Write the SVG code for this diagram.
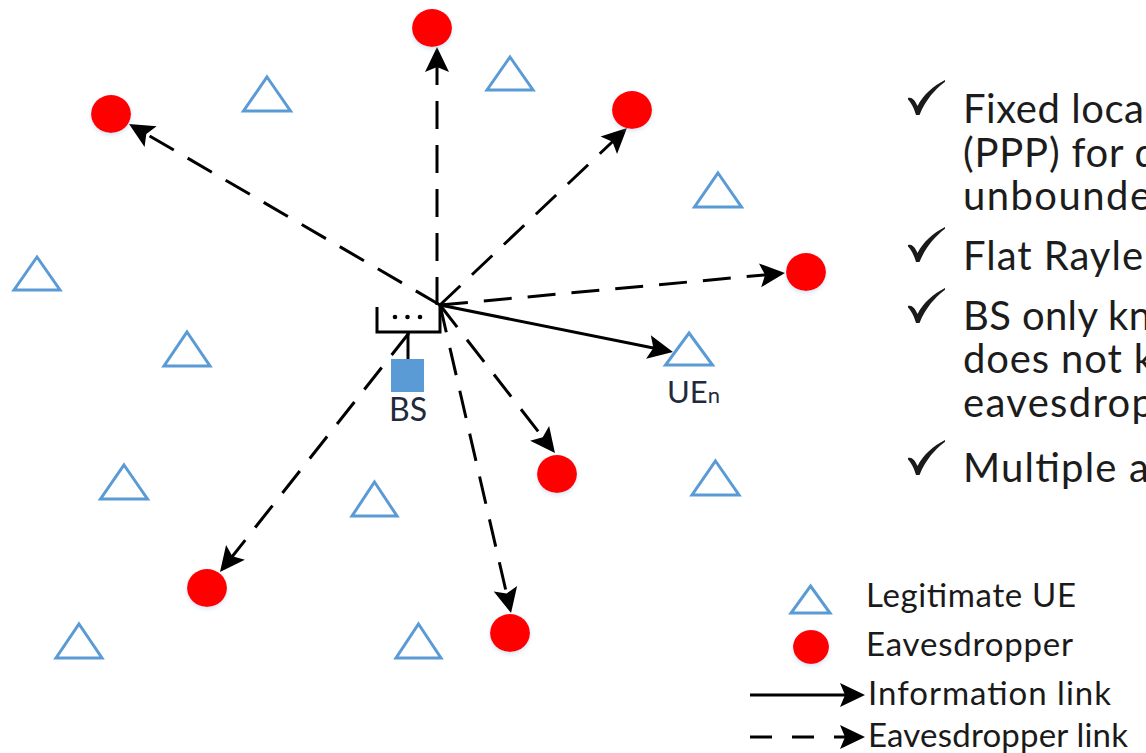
<svg xmlns="http://www.w3.org/2000/svg" width="1146" height="753" viewBox="0 0 1146 753">
  <defs>
    <style>
      .ue { fill: #ffffff; stroke: #5B9BD5; stroke-width: 3; stroke-linejoin: miter; }
      .eve { fill: #FF0000; filter: url(#glow); }
      .link { fill: none; stroke: #000000; stroke-width: 3; }
      .dash { stroke-dasharray: 28 16; }
      .info { marker-end: url(#head); }
      .eavl { marker-end: url(#head); }
      .bullet { font-family: Lato, "Liberation Sans", sans-serif; font-size: 40px; fill: #1c1c1c; }
      .legend { font-family: Lato, "Liberation Sans", sans-serif; font-size: 33px; fill: #1a1a1a; }
      .label { font-family: Lato, "Liberation Sans", sans-serif; fill: #1f2a3a; }
      .tick { fill: #1a1a1a; }
    </style>
    <marker id="head" markerUnits="userSpaceOnUse" viewBox="-22 -14 30 28" refX="0" refY="0" markerWidth="30" markerHeight="28" orient="auto" overflow="visible">
      <path d="M6,0 L-19,-12 L-14,0 L-19,12 Z" fill="#000000"/>
    </marker>
    <filter id="glow" x="-50%" y="-50%" width="200%" height="200%">
      <feDropShadow dx="0" dy="2" stdDeviation="2" flood-color="#9DC3E6" flood-opacity="0.45"/>
    </filter>
    <path id="check" d="M0,18 C3,17 6,19 8,23 L9.5,26 C15,15 25,6 37,0 L37,1.8 C27,9.5 17.5,20 11.5,35 L8,35 C6,28 3,22.5 0,19.5 Z"/>
  </defs>

  <!-- connectors -->
  <g id="connectors">
    <path class="link dash eavl" d="M440,305 L134.2,127"/>
    <path class="link dash eavl" d="M437,305 L437,53"/>
    <path class="link dash eavl" d="M440,305 L622.6,132.1"/>
    <path class="link dash eavl" d="M440,305 L779,273.6"/>
    <path class="link info" d="M440,305 L667.1,350.8"/>
    <path class="link dash eavl" d="M440,305 L551.3,448.3"/>
    <path class="link dash eavl" d="M440,305 L509.7,607.2"/>
    <path class="link dash eavl" d="M409,333 L223.7,567.3"/>
  </g>

  <!-- base station with antenna array -->
  <g id="bs">
    <path d="M377,307 V332 H440 V304" fill="none" stroke="#000" stroke-width="3"/>
    <circle cx="395" cy="317" r="2.3" fill="#000"/>
    <circle cx="407.5" cy="317" r="2.3" fill="#000"/>
    <circle cx="420" cy="317" r="2.3" fill="#000"/>
    <line x1="408" y1="332" x2="408" y2="359" stroke="#000" stroke-width="3"/>
    <rect x="391" y="359" width="33" height="33" fill="#5B9BD5"/>
    <text class="label" x="408" y="421" font-size="32" text-anchor="middle">BS</text>
  </g>

  <!-- legitimate users -->
  <g id="ue1"><path class="ue" d="M267,77 L290.5,111 L243.5,111 Z"/></g>
  <g id="ue2"><path class="ue" d="M510,57 L533,90 L487,90 Z"/></g>
  <g id="ue3"><path class="ue" d="M718,173 L741.5,207 L694.5,207 Z"/></g>
  <g id="ue4"><path class="ue" d="M37,257 L60,290 L14,290 Z"/></g>
  <g id="ue5"><path class="ue" d="M187,332 L210,366 L164,366 Z"/></g>
  <g id="ue-n">
    <path class="ue" d="M689,333 L712.5,365 L665.5,365 Z"/>
    <text class="label" x="667" y="403" font-size="31">UE<tspan font-size="22">n</tspan></text>
  </g>
  <g id="ue6"><path class="ue" d="M124,465 L147.5,499 L100.5,499 Z"/></g>
  <g id="ue7"><path class="ue" d="M374.5,482 L397,516 L352,516 Z"/></g>
  <g id="ue8"><path class="ue" d="M715.5,461 L739,495 L692,495 Z"/></g>
  <g id="ue9"><path class="ue" d="M79,624 L102,658 L56,658 Z"/></g>
  <g id="ue10"><path class="ue" d="M418.5,624 L441,658 L396,658 Z"/></g>

  <!-- eavesdroppers -->
  <g id="eve1"><ellipse class="eve" cx="432" cy="28" rx="20" ry="19"/></g>
  <g id="eve2"><ellipse class="eve" cx="111" cy="114" rx="20" ry="19"/></g>
  <g id="eve3"><ellipse class="eve" cx="632" cy="110" rx="20" ry="19"/></g>
  <g id="eve4"><ellipse class="eve" cx="806" cy="272" rx="20" ry="19"/></g>
  <g id="eve5"><ellipse class="eve" cx="557" cy="474" rx="20" ry="19"/></g>
  <g id="eve6"><ellipse class="eve" cx="207" cy="588" rx="20" ry="19"/></g>
  <g id="eve7"><ellipse class="eve" cx="510" cy="633" rx="20" ry="19"/></g>

  <!-- assumptions list -->
  <g id="assumptions">
    <use href="#check" class="tick" x="908" y="80"/>
    <use href="#check" class="tick" x="908" y="227"/>
    <use href="#check" class="tick" x="908" y="288"/>
    <use href="#check" class="tick" x="908" y="440"/>
    <text class="bullet" x="963" y="123" textLength="181" lengthAdjust="spacing">Fixed loca</text>
    <text class="bullet" x="963" y="167" textLength="194" lengthAdjust="spacing">(PPP) for d</text>
    <text class="bullet" x="963" y="210" textLength="188" lengthAdjust="spacing">unbounde</text>
    <text class="bullet" x="963" y="270" textLength="180" lengthAdjust="spacing">Flat Rayle</text>
    <text class="bullet" x="963" y="330" textLength="188" lengthAdjust="spacing">BS only kn</text>
    <text class="bullet" x="963" y="373" textLength="191" lengthAdjust="spacing">does not k</text>
    <text class="bullet" x="963" y="417" textLength="191" lengthAdjust="spacing">eavesdrop</text>
    <text class="bullet" x="963" y="482" textLength="186" lengthAdjust="spacing">Multiple a</text>
  </g>

  <!-- legend -->
  <g id="legend">
    <path class="ue" d="M810.5,586 L830,613 L791,613 Z"/>
    <ellipse cx="811" cy="647" rx="18" ry="17" fill="#FF0000" filter="url(#glow)"/>
    <path class="link info" d="M750,695 L859,695"/>
    <path class="link eavl" d="M750,737 L859,737" stroke-dasharray="22 20"/>
    <text class="legend" x="866" y="607" textLength="210" lengthAdjust="spacing">Legitimate UE</text>
    <text class="legend" x="866" y="656" textLength="207" lengthAdjust="spacing">Eavesdropper</text>
    <text class="legend" x="868" y="705" textLength="243" lengthAdjust="spacing">Information link</text>
    <text class="legend" x="868" y="747" textLength="260" lengthAdjust="spacing">Eavesdropper link</text>
  </g>
</svg>
